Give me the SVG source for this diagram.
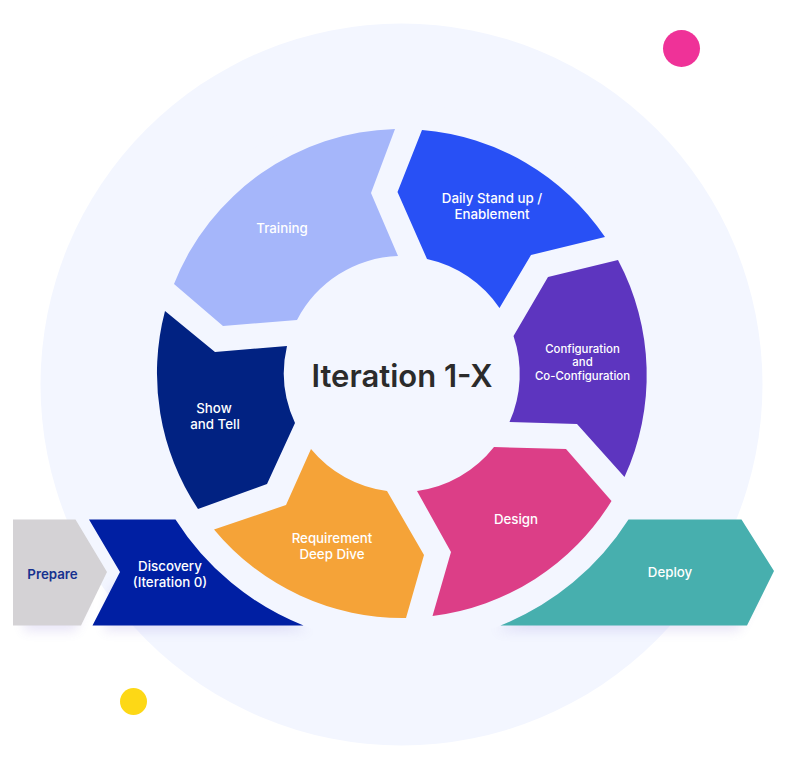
<svg xmlns="http://www.w3.org/2000/svg" width="800" height="771" viewBox="0 0 800 771">
<style>
text{font-family:Inter,"Liberation Sans",sans-serif;font-weight:500;font-size:13.3px;fill:#fff;text-anchor:middle}
.bg{fill:#f3f6ff}
</style>
<defs>
<filter id="sh" x="-20%" y="-30%" width="140%" height="170%"><feGaussianBlur stdDeviation="6"/></filter>
</defs>
<rect width="800" height="771" fill="#fff"/>
<circle class="bg" cx="401.500" cy="384.500" r="361"/>
<g id="shadows" filter="url(#sh)" fill="#6a55c8" opacity=".15">
<path d="M24 585H70L85 600L76 631H24Z"/>
<path d="M112 585H200L310 631H104Z"/>
<path d="M495 631L630 570H730L758 590L738 631Z"/>
</g>
<circle class="bg" cx="402" cy="374" r="270"/>
<g id="connectors"/>
<g id="prepare"><path d="M13 519.500H75.500L107 572L81 625.500H13Z" fill="#d4d2d5"/><text x="52.500" y="579" style="fill:#16318f;font-weight:600">Prepare</text></g>
<g id="discovery"><path d="M89 519.500H175.500A270 270 0 0 0 303.500 625.500H92.500L120 572Z" fill="#001fa3"/><text x="170" y="571">Discovery</text><text x="170" y="587">(Iteration 0)</text></g>
<g id="deploy"><path d="M500.500 625.500A270 270 0 0 0 628.500 519.500H741.500L774 571L747 625.500Z" fill="#47afae"/><text x="670" y="577">Deploy</text></g>
<g id="training"><path d="M174 284A245 245 0 0 1 395 129L371 193L398 256A118 118 0 0 0 297 320L223 326Z" fill="#a5b6fa"/><text x="282" y="233">Training</text></g>
<g id="daily"><path d="M422 130A245 245 0 0 1 605 237L531 255L499.500 308A118 118 0 0 0 427 259L397.500 192Z" fill="#2850f5"/><text x="492" y="203">Daily Stand up /</text><text x="492" y="219">Enablement</text></g>
<g id="configuration"><path d="M618 260A245 245 0 0 1 624.500 477L577 424L509.500 422A118 118 0 0 0 513.500 336L548 277Z" fill="#5d35bf"/><text x="582.500" y="353" style="font-size:11.400px">Configuration</text><text x="582.500" y="366" style="font-size:11.400px">and</text><text x="582.500" y="380" style="font-size:11.400px">Co-Configuration</text></g>
<g id="design"><path d="M494 447L566 449L611.500 501A245 245 0 0 1 432.500 616L451 552L417 491A118 118 0 0 0 494 447Z" fill="#dc3e87"/><text x="516" y="524">Design</text></g>
<g id="requirement"><path d="M311 449A118 118 0 0 0 387 491L424 555L406 618A245 245 0 0 1 214 529.500L286 505Z" fill="#f5a338"/><text x="332" y="543">Requirement</text><text x="332" y="559">Deep Dive</text></g>
<g id="show"><path d="M165 311L215 352L287 346A118 118 0 0 0 295 423L267 484L198 509A245 245 0 0 1 165 311Z" fill="#012282"/><text x="214" y="413">Show</text><text x="215" y="429">and Tell</text></g>
<g id="center"><text x="402" y="387" style="font-size:31px;font-weight:600;fill:#2b2b2b">Iteration 1-X</text></g>
<g id="dot-pink"><circle cx="681.500" cy="48.500" r="18.500" fill="#ef3298"/></g>
<g id="dot-yellow"><circle cx="133.500" cy="701.500" r="13.500" fill="#fdd816"/></g>
</svg>
